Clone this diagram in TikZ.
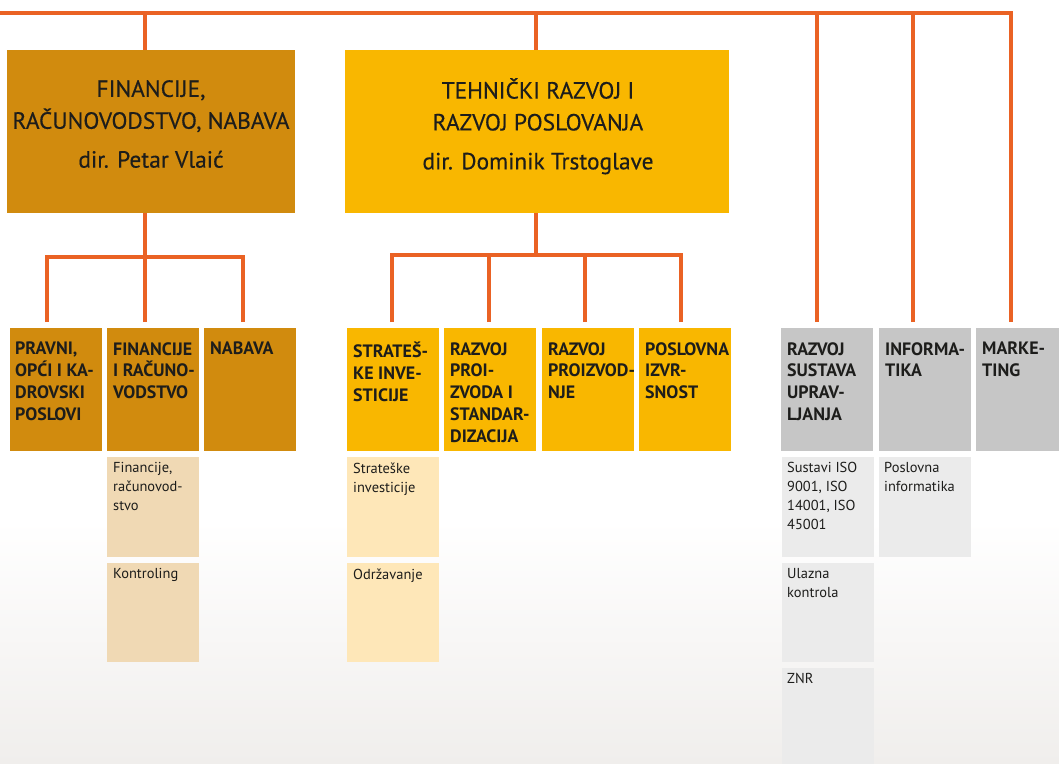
\documentclass[tikz,border=0pt]{standalone}
\usepackage{fontspec}
\setmainfont{PT Sans}
\newfontfamily\medfont{PT Sans}[FakeBold=0.35]
\usetikzlibrary{calc}
\definecolor{ln}{RGB}{234,98,36}
\definecolor{dk}{RGB}{209,139,14}
\definecolor{yl}{RGB}{249,183,0}
\definecolor{gr}{RGB}{198,198,198}
\definecolor{dksub}{RGB}{240,217,180}
\definecolor{ylsub}{RGB}{254,231,184}
\definecolor{grsub}{RGB}{235,235,235}
\definecolor{tx}{RGB}{29,29,27}
\begin{document}
\begin{tikzpicture}[x=1bp,y=-1bp,
  box/.style 2 args={draw=none, anchor=north west, inner sep=0pt, outer sep=0pt, minimum width=#1bp, minimum height=#2bp},
  hd/.style={box={92}{123}},
  sub/.style={box={92}{100}},
  conn/.style={draw=ln, line width=3.6bp, line join=miter},
  bigtxt/.style={anchor=north, inner sep=0pt, align=center, text=tx, font=\medfont\fontsize{23.5}{32}\selectfont, execute at begin node={\rule{0pt}{17bp}}},
  hdtxt/.style={anchor=north west, inner sep=0pt, align=left, text=tx, font=\fontsize{18}{22}\bfseries\selectfont, execute at begin node={\rule{0pt}{12.5bp}}},
  subtxt/.style={anchor=north west, inner sep=0pt, align=left, text=tx, font=\fontsize{14.5}{19}\selectfont, execute at begin node={\rule{0pt}{10bp}}},
]
\useasboundingbox (0,0) rectangle (1059,764);
\shade[top color=white, bottom color={rgb,255:red,240;green,238;blue,236}, draw=none] (0,520) rectangle (1059,764);

% top boxes
\node[box={288}{163}, fill=dk] (fin) at (7,50) {};
\node[box={384}{163}, fill=yl] (tech) at (345,50) {};
\node[bigtxt] (fint) at (151,80) {FINANCIJE,\\RAČUNOVODSTVO, NABAVA\\[7bp]dir. Petar Vlaić};
\node[bigtxt] (techt) at (538,78) {TEHNIČKI RAZVOJ I\\RAZVOJ POSLOVANJA\\[7bp]dir. Dominik Trstoglave};

% second level
\node[hd, fill=dk] (pravni) at (10,328) {};
\node[hd, fill=dk] (finr) at (107,328) {};
\node[hd, fill=dk] (nabava) at (204,328) {};
\node[hd, fill=yl] (strat) at (347,328) {};
\node[hd, fill=yl] (razpro) at (444,328) {};
\node[hd, fill=yl] (razproizv) at (542,328) {};
\node[hd, fill=yl] (posl) at (639,328) {};
\node[hd, fill=gr] (rsu) at (781,328) {};
\node[hd, fill=gr] (info) at (879,328) {};
\node[hd, fill=gr] (mark) at (976,328) {};

\node[hdtxt] (pravnit) at ($(pravni.north west)+(5,14)$) {PRAVNI,\\OPĆI I KA-\\DROVSKI\\POSLOVI};
\node[hdtxt] (finrt) at ($(finr.north west)+(6,14)$) {FINANCIJE\\I RAČUNO-\\VODSTVO};
\node[hdtxt] (nabavat) at ($(nabava.north west)+(6,14)$) {NABAVA};
\node[hdtxt] (stratt) at ($(strat.north west)+(6,14)$) {STRATEŠ-\\KE INVE-\\STICIJE};
\node[hdtxt] (razprot) at ($(razpro.north west)+(6,14)$) {RAZVOJ\\PROI-\\ZVODA I\\STANDAR-\\DIZACIJA};
\node[hdtxt] (razproizvt) at ($(razproizv.north west)+(6,14)$) {RAZVOJ\\PROIZVOD-\\NJE};
\node[hdtxt] (poslt) at ($(posl.north west)+(6,14)$) {POSLOVNA\\IZVR-\\SNOST};
\node[hdtxt] (rsut) at ($(rsu.north west)+(6,14)$) {RAZVOJ\\SUSTAVA\\UPRAV-\\LJANJA};
\node[hdtxt] (infot) at ($(info.north west)+(6,14)$) {INFORMA-\\TIKA};
\node[hdtxt] (markt) at ($(mark.north west)+(6,14)$) {MARKE-\\TING};

% third level
\node[sub, fill=dksub] (s1) at (107,457) {};
\node[box={92}{99}, fill=dksub] (s2) at (107,563) {};
\node[sub, fill=ylsub] (s3) at (347,457) {};
\node[box={92}{99}, fill=ylsub] (s4) at (347,563) {};
\node[sub, fill=grsub] (s5) at (782,457) {};
\node[box={92}{99}, fill=grsub] (s6) at (782,563) {};
\node[sub, fill=grsub] (s7) at (782,668) {};
\node[sub, fill=grsub] (s8) at (879,457) {};

\node[subtxt] (s1t) at ($(s1.north west)+(6,5.5)$) {Financije,\\računovod-\\stvo};
\node[subtxt] (s2t) at ($(s2.north west)+(6,5.5)$) {Kontroling};
\node[subtxt] (s3t) at ($(s3.north west)+(6,5.5)$) {Strateške\\investicije};
\node[subtxt] (s4t) at ($(s4.north west)+(6,5.5)$) {Održavanje};
\node[subtxt] (s5t) at ($(s5.north west)+(5,5.5)$) {Sustavi ISO\\9001, ISO\\14001, ISO\\45001};
\node[subtxt] (s6t) at ($(s6.north west)+(5,5.5)$) {Ulazna\\kontrola};
\node[subtxt] (s7t) at ($(s7.north west)+(5,5.5)$) {ZNR};
\node[subtxt] (s8t) at ($(s8.north west)+(5,5.5)$) {Poslovna\\informatika};

% connectors
\coordinate (topL) at (0,13);
\coordinate (finbus) at (145,257);
\coordinate (techbus) at (536,255);

\draw[conn] ([xshift=-10bp,yshift=6bp]rsu.north) |- (topL);
\draw[conn] ([xshift=-12bp,yshift=6bp]info.north) |- (topL);
\draw[conn] ([xshift=-6bp]fin.north) |- (topL);
\draw[conn] ([xshift=-1bp]tech.north) |- (topL);
\draw[conn, line width=4bp] ([xshift=-11bp,yshift=6bp]mark.north) |- (topL);

\draw[conn] ([xshift=-6bp]fin.south) -- (finbus);
\draw[conn] ([xshift=-9bp,yshift=6bp]pravni.north) |- (finbus);
\draw[conn] ([xshift=-8bp,yshift=6bp]finr.north) |- (finbus);
\draw[conn] ([xshift=-7bp,yshift=6bp]nabava.north) |- (finbus);

\draw[conn] ([xshift=-1bp]tech.south) -- (techbus);
\draw[conn] ([xshift=-1bp,yshift=6bp]strat.north) |- (techbus);
\draw[conn] ([xshift=-1bp,yshift=6bp]razpro.north) |- (techbus);
\draw[conn] ([xshift=-3bp,yshift=6bp]razproizv.north) |- (techbus);
\draw[conn] ([xshift=-4bp,yshift=6bp]posl.north) |- (techbus);
\end{tikzpicture}
\end{document}
